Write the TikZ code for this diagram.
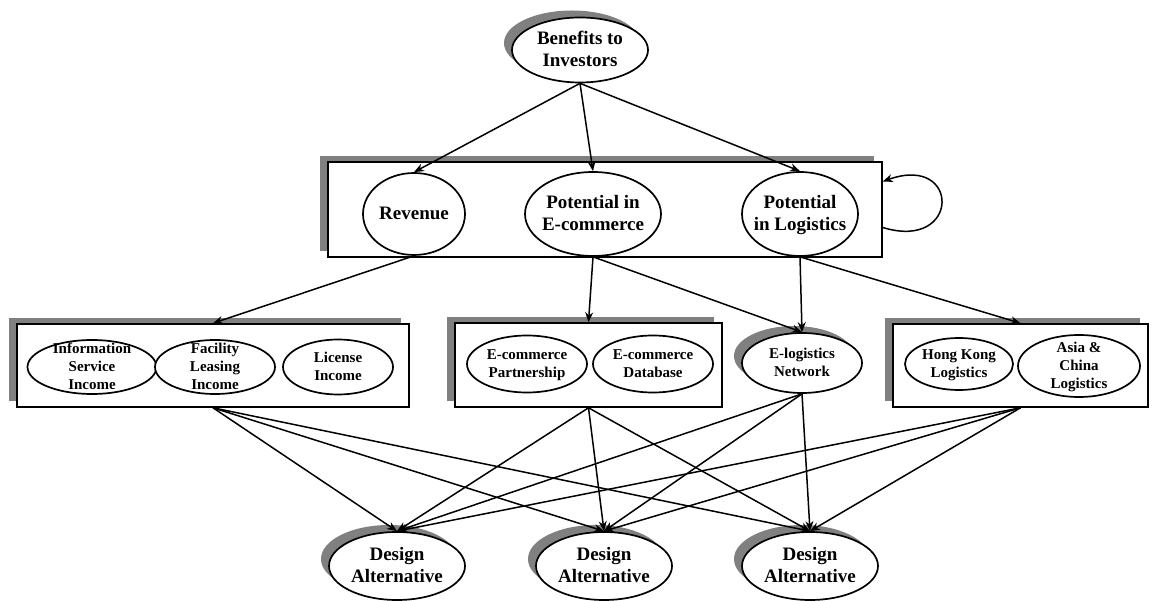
\documentclass[tikz,border=0pt]{standalone}
\usepackage{fontspec}
\setmainfont{Liberation Serif}
\usetikzlibrary{arrows.meta,shapes.geometric,shadows,calc,positioning}

% text of fixed size zero, so that it does not stretch the ovals
\newcommand{\ctr}[1]{\raisebox{-0.3em}[0pt][0pt]{\makebox[0pt]{\begin{tabular}{@{}c@{}}#1\end{tabular}}}}

\tikzset{
  oval/.style={ellipse, draw, fill=white, line width=1.7pt, inner sep=0pt,
    font=\bfseries\fontsize{19}{22}\selectfont},
  small/.style={font=\bfseries\fontsize{15}{18}\selectfont},
  shadowed/.style={copy shadow={shadow xshift=-8pt, shadow yshift=7pt, fill=gray, draw=none}},
  groupbox/.style={rectangle, draw, fill=white, line width=1.6pt, inner sep=0pt,
    copy shadow={shadow xshift=-8pt, shadow yshift=6pt, fill=gray, draw=none}},
}

\begin{document}
\begin{tikzpicture}[x=1pt, y=-1pt, line width=1.5pt, -{Stealth[length=10pt,width=8pt]}]
    \useasboundingbox (0,0) rectangle (1154,601);

    \node[oval, shadowed, minimum width=136pt, minimum height=65pt] (benefit) at (580,50) {\ctr{Benefits to\\Investors}};

    % criteria
    \node[groupbox, minimum width=554pt, minimum height=95pt] (topbox) at (605,209.5) {};
    \node[oval, minimum width=102pt, minimum height=82pt] (revenue) at (414,214) {\ctr{Revenue}};
    \node[oval, minimum width=136pt, minimum height=84pt] (pote) at (593,214) {\ctr{Potential in\\E-commerce}};
    \node[oval, minimum width=116pt, minimum height=84pt] (potl) at (800,214) {\ctr{Potential\\in Logistics}};

    % sub-criteria
    \node[groupbox, minimum width=392pt, minimum height=83pt] (revbox) at (213,365.5) {};
    \node[oval, small, minimum width=129pt, minimum height=54pt] (info) at (92,367) {\ctr{Information\\Service\\Income}};
    \node[oval, small, minimum width=120pt, minimum height=54pt] (facility) at (215,367) {\ctr{Facility\\Leasing\\Income}};
    \node[oval, small, minimum width=110pt, minimum height=55pt] (license) at (338,367) {\ctr{License\\Income}};

    \node[groupbox, minimum width=267pt, minimum height=84pt] (ecbox) at (588.5,365) {};
    \node[oval, small, minimum width=120pt, minimum height=57pt] (partner) at (527,364) {\ctr{E-commerce\\Partnership}};
    \node[oval, small, minimum width=120pt, minimum height=57pt] (database) at (653,364) {\ctr{E-commerce\\Database}};
    \node[oval, small, shadowed, minimum width=120pt, minimum height=60pt] (elog) at (802,363) {\ctr{E-logistics\\Network}};

    \node[groupbox, minimum width=255pt, minimum height=83pt] (logbox) at (1020.5,365.5) {};
    \node[oval, small, minimum width=108pt, minimum height=52pt] (hk) at (959,364) {\ctr{Hong Kong\\Logistics}};
    \node[oval, small, minimum width=122pt, minimum height=62pt] (asia) at (1079,366) {\ctr{Asia \&\\China\\Logistics}};

    % alternatives
    \foreach \i/\x in {1/397,2/604,3/810}
        \node[oval, shadowed, minimum width=136pt, minimum height=68pt] (alt\i) at (\x,566) {\ctr{Design\\Alternative}};

    \draw (benefit.south) -- (revenue.north);
    \draw (benefit.south) -- (pote.north);
    \draw (benefit.south) -- (potl.north);

    \draw ($(topbox.east)+(0,18)$) .. controls +(78,24) and +(78,-28) .. ($(topbox.east)+(0,-28)$);

    \draw (revenue.south) -- (revbox.north);
    \draw (pote.south) -- (ecbox.north);
    \draw (pote.south) -- (elog.north);
    \draw (potl.south) -- (elog.north);
    \draw (potl.south) -- (logbox.north);

    \foreach \s in {revbox,ecbox,elog,logbox}
        \foreach \t in {alt1,alt2,alt3}
            \draw (\s.south) -- (\t.north);
\end{tikzpicture}
\end{document}
